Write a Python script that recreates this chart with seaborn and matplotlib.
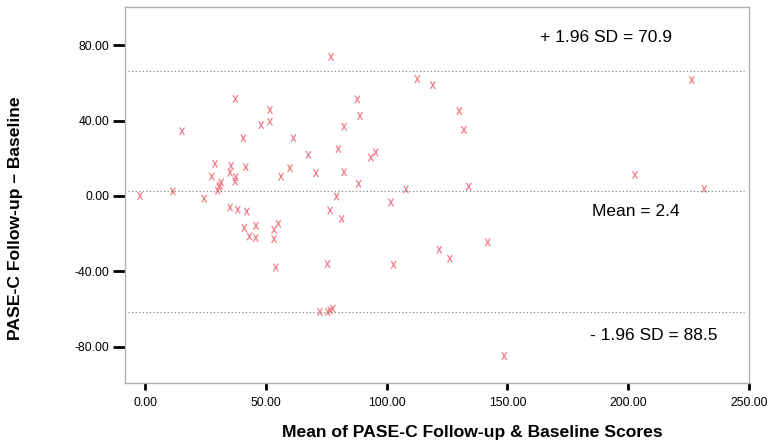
import matplotlib
matplotlib.use("Agg")
import matplotlib.pyplot as plt
from matplotlib.path import Path
import seaborn as sns
import pandas as pd

# Bland-Altman data: mean of the two scores (x) vs difference (y)
mean_scores = [-2.1, 11.5, 15.3, 24.5, 27.6, 29.0, 30.1, 30.6, 31.5, 31.0,
               35.6, 35.2, 37.5, 37.3, 41.7, 37.4, 40.7, 48.1, 51.7, 51.7,
               61.4, 56.3, 60.0, 35.2, 38.4, 42.1, 41.1, 45.9, 43.2, 45.8,
               53.4, 55.2, 53.4, 54.1, 82.4, 80.0, 67.6, 93.5, 95.5, 70.7,
               82.4, 88.4, 108.0, 79.3, 76.6, 81.4, 101.8, 77.0, 112.7, 119.1,
               87.9, 89.0, 130.1, 132.0, 134.0, 226.3, 202.8, 231.5, 75.5, 102.9,
               121.8, 126.2, 141.8, 72.4, 75.6, 76.6, 77.7, 148.7]
differences = [0.0, 2.3, 34.3, -1.5, 10.2, 17.0, 2.8, 4.6, 7.1, 5.5,
               15.9, 12.3, 9.9, 7.6, 15.2, 51.4, 30.6, 37.6, 45.6, 39.4,
               30.6, 10.2, 14.7, -6.2, -7.4, -8.3, -17.1, -15.9, -21.6, -22.4,
               -18.0, -14.8, -22.9, -38.0, 36.7, 24.9, 21.7, 20.3, 23.1, 12.0,
               12.5, 6.4, 3.5, -0.4, -7.8, -12.3, -3.5, 73.8, 62.0, 58.8,
               51.2, 42.5, 45.0, 35.0, 4.9, 61.5, 11.1, 3.7, -36.2, -36.6,
               -28.6, -33.4, -24.7, -61.6, -61.6, -60.8, -59.9, -85.1]

ref_levels = [66.3, 2.4, -61.9]
ref_labels = ["+ 1.96 SD = 70.9", "Mean = 2.4", "- 1.96 SD = 88.5"]
label_x = [191.0, 203.0, 210.5]
label_y = [84.0, -8.5, -74.0]

x_ticks = [0, 50, 100, 150, 200, 250]
y_ticks = [-80, -40, 0, 40, 80]

df = pd.DataFrame({"mean": mean_scores, "diff": differences})

sns.set_theme(style="white")
plt.rcParams["font.family"] = ["Liberation Sans", "DejaVu Sans"]

fig = plt.figure(figsize=(7.75, 4.48), dpi=100)
ax = fig.add_axes([0.1613, 0.1445, 0.8052, 0.8400])

marker_path = Path([(-0.32, -0.5), (0.32, 0.5), (-0.32, 0.5), (0.32, -0.5)],
                   [Path.MOVETO, Path.LINETO, Path.MOVETO, Path.LINETO])
pt_color = "#ef7f8a"
sns.scatterplot(data=df, x="mean", y="diff", ax=ax, marker=marker_path,
                s=30, facecolor="none", edgecolor=pt_color, linewidth=0.9,
                legend=False)

for lvl in ref_levels:
    ax.axhline(lvl, xmin=0.005, xmax=0.992, color="#777777",
               linestyle=(0, (1, 2.2)), linewidth=0.8, zorder=1)

for t, lx, ly in zip(ref_labels, label_x, label_y):
    ax.text(lx, ly, t, ha="center", va="center", fontsize=12.5, color="black")

ax.set_xlim(-8.3, 250)
ax.set_ylim(-99.5, 100.3)
ax.set_xticks(x_ticks)
ax.set_yticks(y_ticks)
ax.set_xticklabels([f"{v:.2f}" for v in x_ticks])
ax.set_yticklabels([f"{v:.2f}" for v in y_ticks])

ax.tick_params(axis="y", direction="out", length=9, width=2, color="black",
               pad=2, labelsize=8.7, labelcolor="black", left=True)
ax.tick_params(axis="x", direction="out", length=5, width=2, color="black",
               pad=5, labelsize=8.7, labelcolor="black", bottom=True)

for sp in ax.spines.values():
    sp.set_color("#b0b0b0")
    sp.set_linewidth(1.0)
    sp.set_visible(True)

ax.set_xlabel("Mean of PASE-C Follow-up & Baseline Scores", fontsize=12.6,
              fontweight="bold", color="black")
ax.set_ylabel("PASE-C Follow-up \u2013 Baseline", fontsize=12.6,
              fontweight="bold", color="black")
ax.xaxis.set_label_coords(0.556, -0.13)
ax.xaxis.label.set_va("center")
ax.yaxis.set_label_coords(-0.176, 0.4375)
ax.yaxis.label.set_va("center")

fig.savefig("out.png", dpi=100)
